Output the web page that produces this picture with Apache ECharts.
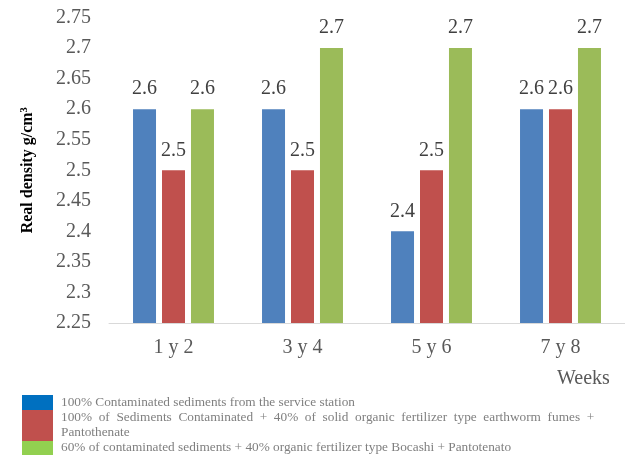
<!DOCTYPE html>
<html>
<head>
<meta charset="utf-8">
<script src="https://cdn.jsdelivr.net/npm/echarts@6/dist/echarts.min.js"></script>
<style>
  html, body { margin: 0; padding: 0; background: #fff; }
  #main { width: 625px; height: 455px; }
</style>
</head>
<body>
<div id="main"></div>
<script>
// datos
var categories = ['1 y 2', '3 y 4', '5 y 6', '7 y 8'];
var seriesNames = [
  '100% Contaminated sediments from the service station',
  '100%  of  Sediments  Contaminated  +  40%  of  solid  organic  fertilizer  type  earthworm  fumes  +\nPantothenate',
  '60% of contaminated sediments + 40% organic fertilizer type Bocashi + Pantotenato'
];
var sediments = [2.6, 2.6, 2.4, 2.6];
var earthworm = [2.5, 2.5, 2.5, 2.6];
var bocashi = [2.6, 2.7, 2.7, 2.7];
var yTicks = { min: 2.25, max: 2.75, step: 0.05 };

var barColors = ['#4F81BD', '#C0504D', '#9BBB59'];
var legendColors = ['#0070C0', '#C0504D', '#92D050'];
var serif = '"Liberation Serif", "Times New Roman", serif';

var myChart = echarts.init(document.getElementById('main'));

function makeSeries(idx, data) {
  return {
    name: seriesNames[idx],
    type: 'bar',
    data: data,
    barWidth: 23,
    barGap: '26%',
    itemStyle: { color: barColors[idx] },
    label: {
      show: true,
      position: 'top',
      distance: 10,
      color: '#404040',
      fontFamily: serif,
      fontSize: 20
    }
  };
}

// leyenda dibujada a mano (cajas pegadas una a otra)
var legendBoxes = [[395, 15], [410, 31], [441, 16]];
var legendTextY = [403, 418, 448];
var graphic = [];
for (var i = 0; i < seriesNames.length; i++) {
  graphic.push({
    type: 'rect',
    left: 22,
    top: legendBoxes[i][0],
    shape: { width: 31, height: legendBoxes[i][1] },
    style: { fill: legendColors[i] }
  });
  graphic.push({
    type: 'text',
    left: 61,
    top: legendTextY[i] - 7.5,
    style: {
      text: seriesNames[i],
      fill: '#7F7F7F',
      font: '13.3px ' + serif,
      lineHeight: 15
    }
  });
}
graphic.push({
  type: 'text',
  left: 557,
  top: 369,
  style: { text: 'Weeks', fill: '#595959', font: '20px ' + serif }
});

var option = {
  animation: false,
  grid: { left: 109, top: 17.5, width: 520, bottom: 132 },
  xAxis: {
    type: 'category',
    data: categories,
    axisLine: { lineStyle: { color: '#D9D9D9', width: 1 } },
    axisTick: { show: false },
    axisLabel: { color: '#595959', fontFamily: serif, fontSize: 20, margin: 15 }
  },
  yAxis: {
    type: 'value',
    min: yTicks.min,
    max: yTicks.max,
    interval: yTicks.step,
    splitLine: { show: false },
    axisLine: { show: false },
    axisTick: { show: false },
    axisLabel: {
      color: '#595959',
      fontFamily: serif,
      fontSize: 20,
      margin: 18,
      formatter: function (v) { return String(+v.toFixed(2)); }
    },
    name: 'Real density g/cm{s|3}',
    nameLocation: 'middle',
    nameRotate: 90,
    nameGap: 73,
    nameTextStyle: {
      color: '#000',
      fontFamily: serif,
      fontWeight: 'bold',
      fontSize: 16,
      rich: {
        s: { fontSize: 10.5, fontWeight: 'bold', fontFamily: serif, color: '#000', verticalAlign: 'top', padding: [0, 0, 6, 0] }
      }
    }
  },
  series: [
    makeSeries(0, sediments),
    makeSeries(1, earthworm),
    makeSeries(2, bocashi)
  ],
  graphic: graphic
};

myChart.setOption(option);
</script>
</body>
</html>
